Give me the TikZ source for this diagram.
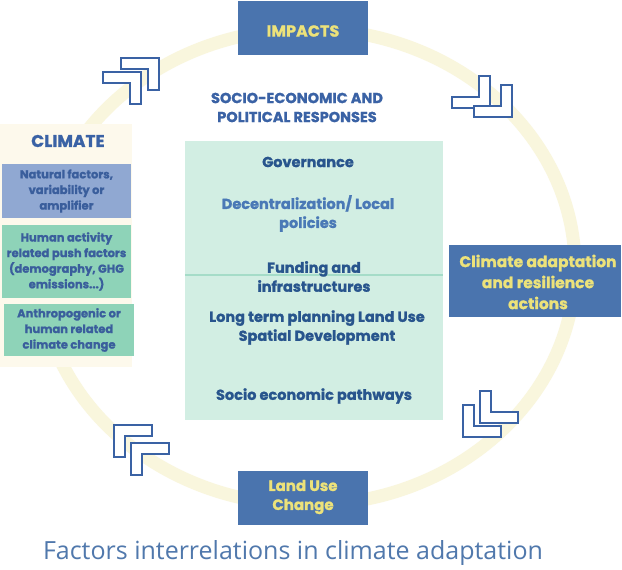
\documentclass[tikz,border=0pt]{standalone}
\usepackage{fontspec}
\setmainfont{Poppins}[BoldFeatures={FakeBold=1.2}]
\newfontfamily\capfont{Open Sans}
\definecolor{ringyellow}{RGB}{249,246,221}
\definecolor{boxblue}{RGB}{74,116,174}
\definecolor{boxyellow}{RGB}{236,226,122}
\definecolor{chevblue}{RGB}{58,98,164}
\definecolor{cream}{RGB}{253,249,236}
\definecolor{lavender}{RGB}{144,168,210}
\definecolor{mint}{RGB}{142,211,184}
\definecolor{panelmint}{RGB}{210,238,227}
\definecolor{panelline}{RGB}{165,220,200}
\definecolor{titleblue}{RGB}{58,98,165}
\definecolor{itemblue}{RGB}{58,94,156}
\definecolor{darknavy}{RGB}{40,85,141}
\definecolor{lightnavy}{RGB}{74,121,182}
\definecolor{capblue}{RGB}{80,120,172}
\tikzset{
  bluebox/.style={rectangle, fill=boxblue, inner sep=0pt},
  yellowtext/.style={text=boxyellow, align=center, inner sep=0pt},
  climbox/.style={rectangle, inner sep=0pt},
  climtext/.style={text=itemblue, align=center, inner sep=0pt, font=\bfseries\fontsize{11.5}{15.6}\selectfont},
  paneltext/.style={align=center, inner sep=0pt, font=\bfseries\fontsize{14.5}{19}\selectfont},
  chevline/.style={draw=chevblue, line width=2.6pt, fill=white, line join=miter},
  chev/.pic={\draw[chevline] (1,1) -- (39,1) -- (39,12) -- (12,12) -- (12,33) -- (1,33) -- cycle;}
}
\begin{document}
\begin{tikzpicture}[x=1pt,y=-1pt]
\useasboundingbox[fill=white] (0,0) rectangle (622,570);
% ring
\draw[ringyellow, line width=13pt] (307,267) ellipse [x radius=268pt, y radius=238pt];
% chevrons
\pic[xscale=-1] at (160,57) {chev};
\pic[xscale=-1] at (142,71) {chev};
\pic[xscale=-1,yscale=-1] at (491,109) {chev};
\pic[xscale=-1,yscale=-1] at (513,118) {chev};
\pic[yscale=-1] at (479,424) {chev};
\pic[yscale=-1] at (462,438) {chev};
\pic at (113,424) {chev};
\pic at (130,442) {chev};
% top box
\node[bluebox, minimum width=130pt, minimum height=54pt] (impacts) at (303,28) {};
\node[yellowtext, font=\bfseries\fontsize{16}{18}\selectfont] (impactstext) at (303,31) {IMPACTS};
% socio-economic title
\node[text=titleblue, align=center, inner sep=0pt, font=\bfseries\fontsize{14.5}{19}\selectfont] (socio) at (297,107.5) {SOCIO-ECONOMIC AND\\POLITICAL RESPONSES};
% green panel
\node[rectangle, fill=panelmint, minimum width=258pt, minimum height=279pt, inner sep=0pt] (panel) at (314,280.5) {};
\draw[panelline, line width=2pt] ([yshift=5.5pt]panel.west) -- ([yshift=5.5pt]panel.east);
\node[paneltext, text=darknavy] (gov) at (308,162) {Governance};
\node[paneltext, text=lightnavy] (decent) at (308,213.5) {Decentralization/ Local\\policies};
\node[paneltext, text=darknavy] (funding) at (314,276.5) {Funding and\\infrastructures};
\node[paneltext, text=darknavy] (longterm) at (317,327.5) {Long term planning Land Use\\Spatial Development};
\node[paneltext, text=darknavy] (pathways) at (314,396) {Socio economic pathways};
% climate panel
\node[climbox, fill=cream, minimum width=132pt, minimum height=243pt] (climpanel) at (66,245.5) {};
\node[text=titleblue, inner sep=0pt, font=\bfseries\fontsize{17}{18}\selectfont] (climtitle) at (68,141) {CLIMATE};
\node[climbox, fill=lavender, minimum width=129pt, minimum height=54pt] (natural) at (66.5,191) {};
\node[climtext] (naturaltext) at (66.5,191) {Natural factors,\\variability or\\amplifier};
\node[climbox, fill=mint, minimum width=129pt, minimum height=73pt] (human) at (66.5,261.5) {};
\node[climtext] (humantext) at (66.5,261.5) {Human activity\\related push factors\\(demography, GHG\\emissions...)};
\node[climbox, fill=mint, minimum width=130pt, minimum height=52pt] (anthro) at (69,330) {};
\node[climtext] (anthrotext) at (69,330) {Anthropogenic or\\human related\\climate change};
% right box
\node[bluebox, minimum width=172pt, minimum height=72pt] (adapt) at (535,281) {};
\node[yellowtext, font=\bfseries\fontsize{15.5}{21}\selectfont] (adapttext) at (538,282) {Climate adaptation\\and resilience\\actions};
% bottom box
\node[bluebox, minimum width=130pt, minimum height=54pt] (landuse) at (303,498) {};
\node[yellowtext, font=\bfseries\fontsize{15}{19}\selectfont] (landusetext) at (303,497) {Land Use\\Change};
% caption
\node[text=capblue, inner sep=0pt, font=\capfont\fontsize{25}{28}\selectfont] (caption) at (293,553) {Factors interrelations in climate adaptation};
\end{tikzpicture}
\end{document}
